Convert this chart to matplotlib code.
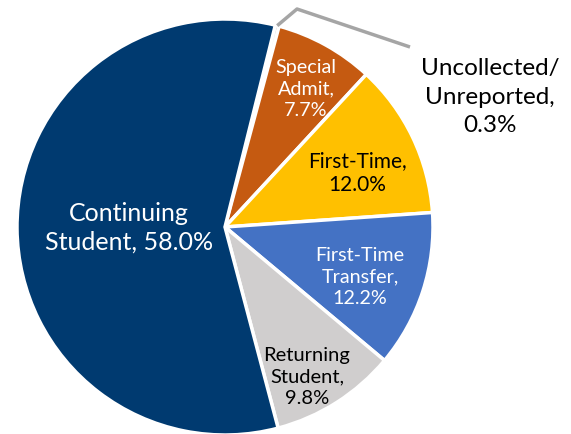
import matplotlib
matplotlib.use('Agg')
import matplotlib.pyplot as plt
import numpy as np

labels = ['Uncollected/\nUnreported,', 'Special\nAdmit,', 'First-Time,', 'First-Time\nTransfer,',
          'Returning\nStudent,', 'Continuing\nStudent,']
values = [0.3, 7.7, 12.0, 12.2, 9.8, 58.0]
colors = ['#A5A5A5', '#C55A11', '#FFC000', '#4472C4', '#D0CECE', '#003A70']
text_colors = ['black', 'white', 'black', 'white', 'black', 'white']

plt.rcParams['font.family'] = ['Lato', 'DejaVu Sans']

fig = plt.figure(figsize=(5.71, 4.35), dpi=100)
ax = fig.add_axes([17 / 571, -1 / 435, 416 / 571, 416 / 435])

wedges, _ = ax.pie(values, colors=colors, startangle=76, counterclock=False, radius=1,
                   wedgeprops=dict(edgecolor='white', linewidth=2.5))
ax.set_xlim(-1, 1)
ax.set_ylim(-1, 1)
ax.set_aspect('equal')
ax.axis('off')

# label spots (pixels in the reference -> data units)
def px(x, y):
    return (x - 225) / 208, (228 - y) / 208

spots = [px(490, 97), px(306, 89), px(357, 173), px(360, 277), px(307, 377), px(129, 228)]
sizes = [17.5, 14.2, 15.0, 14.2, 14.5, 18]
spacing = [1.45, 1.3, 1.3, 1.3, 1.3, 1.3]

for lab, v, pos, c, s, ls in zip(labels, values, spots, text_colors, sizes, spacing):
    if lab == 'Continuing\nStudent,':
        txt = 'Continuing\nStudent, %.1f%%' % v
    elif lab == 'First-Time,':
        txt = 'First-Time,\n%.1f%%' % v
    else:
        txt = lab + '\n%.1f%%' % v
    ax.text(pos[0], pos[1], txt, ha='center', va='center', color=c, fontsize=s,
            linespacing=ls, clip_on=False)

# leader line for the tiny slice
w = wedges[0]
mid = np.deg2rad((w.theta1 + w.theta2) / 2)
x0, y0 = np.cos(mid), np.sin(mid)
p1 = px(297, 10)
p2 = px(410, 48)
ax.plot([x0, p1[0], p2[0]], [y0, p1[1], p2[1]], color='#A5A5A5', lw=2.5,
        clip_on=False, solid_capstyle='butt')

fig.savefig('out.png', dpi=100)
